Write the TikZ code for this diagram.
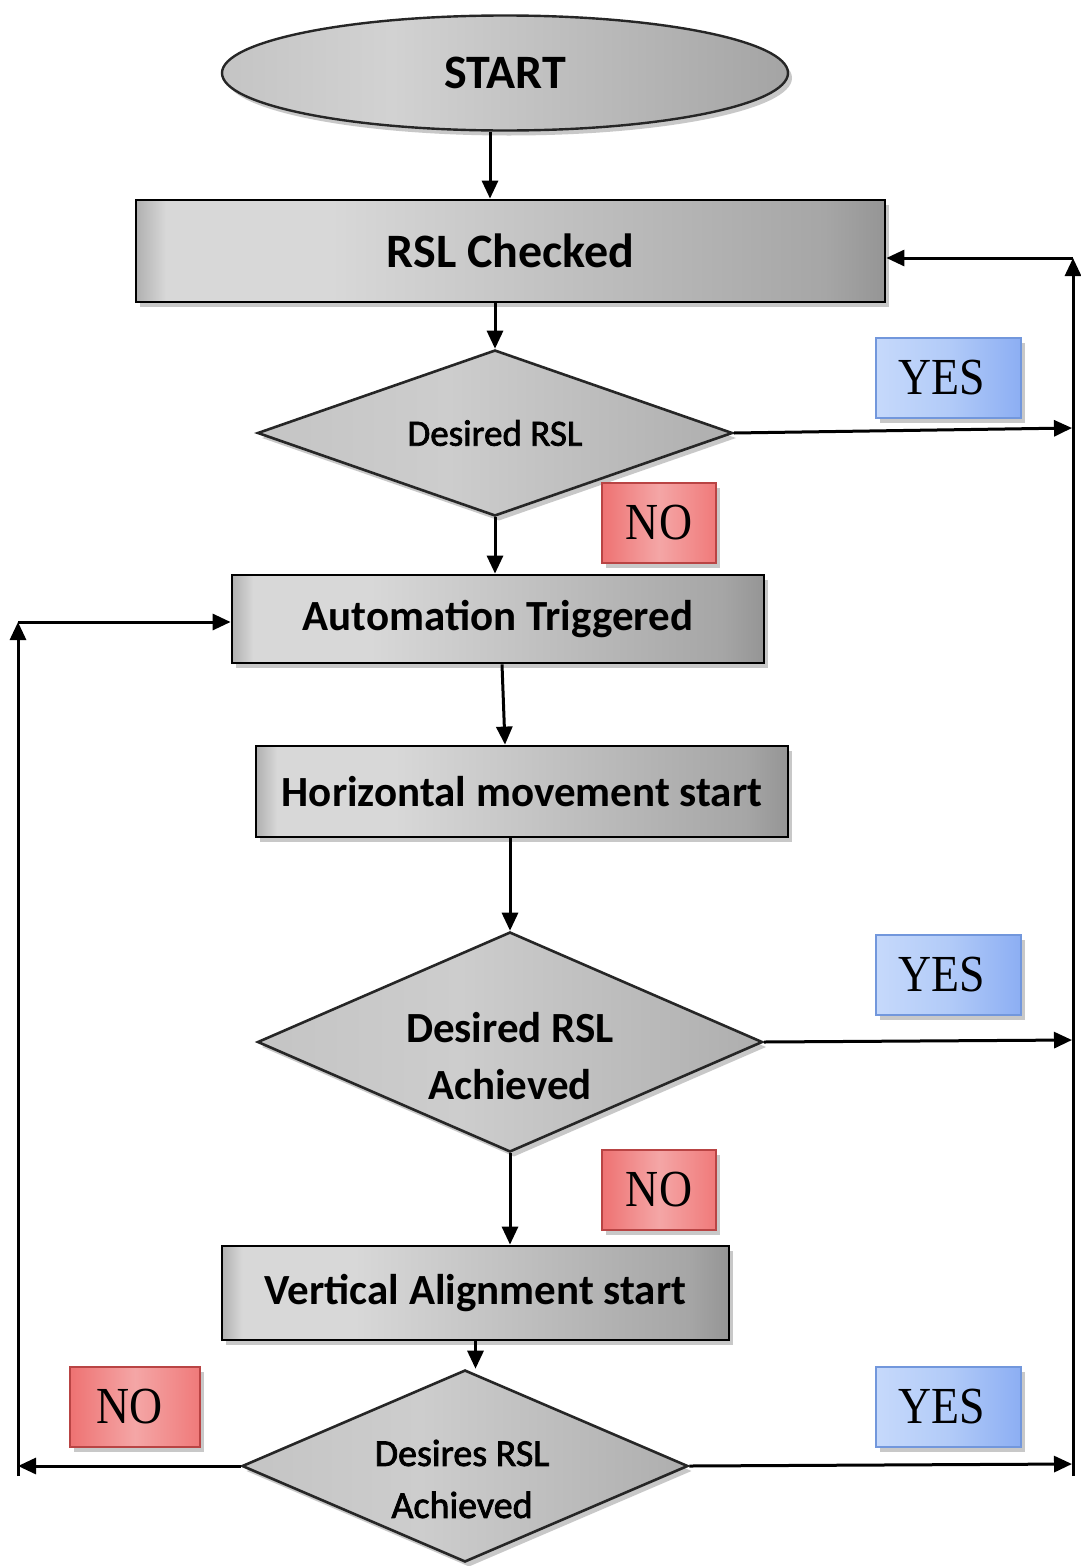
\documentclass[tikz,border=0pt]{standalone}
\usepackage{fontspec}
\usepackage{graphicx}
\setmainfont{Carlito}
\newfontfamily\midface[FakeBold=2]{Carlito}
\newfontfamily\serifface{Liberation Serif}
\usetikzlibrary{shapes.geometric,arrows.meta,shadows}

% grey process boxes
\definecolor{pgA}{HTML}{B0B0B0}
\definecolor{pgB}{HTML}{D8D8D8}
\definecolor{pgC}{HTML}{A6A6A6}
\definecolor{pgD}{HTML}{959595}
% terminal and decisions
\definecolor{tmA}{HTML}{C4C4C4}
\definecolor{tmB}{HTML}{D2D2D2}
\definecolor{tmC}{HTML}{A4A4A4}
\definecolor{dcA}{HTML}{C4C4C4}
\definecolor{dcB}{HTML}{CDCDCD}
\definecolor{dcC}{HTML}{AEAEAE}
% answer tags
\definecolor{ysA}{HTML}{C6D9FB}
\definecolor{ysB}{HTML}{B2CBF8}
\definecolor{ysC}{HTML}{8CAEF3}
\definecolor{ysLine}{HTML}{7297DC}
\definecolor{noA}{HTML}{EE7272}
\definecolor{noB}{HTML}{F4A6A6}
\definecolor{noC}{HTML}{F07A7A}
\definecolor{noLine}{HTML}{B94444}

\pgfdeclarehorizontalshading{procshade}{100bp}{color(0bp)=(pgA); color(25bp)=(pgA); color(27bp)=(pgB); color(38bp)=(pgB); color(71bp)=(pgC); color(75bp)=(pgD); color(100bp)=(pgD)}
\pgfdeclarehorizontalshading{termshade}{100bp}{color(0bp)=(tmA); color(25bp)=(tmA); color(40bp)=(tmB); color(75bp)=(tmC); color(100bp)=(tmC)}
\pgfdeclarehorizontalshading{decshade}{100bp}{color(0bp)=(dcA); color(25bp)=(dcA); color(45bp)=(dcB); color(75bp)=(dcC); color(100bp)=(dcC)}
\pgfdeclarehorizontalshading{yesshade}{100bp}{color(0bp)=(ysA); color(25bp)=(ysA); color(50bp)=(ysB); color(75bp)=(ysC); color(100bp)=(ysC)}
\pgfdeclarehorizontalshading{noshade}{100bp}{color(0bp)=(noA); color(25bp)=(noA); color(50bp)=(noB); color(75bp)=(noC); color(100bp)=(noC)}

\begin{document}
\begin{tikzpicture}[x=1pt,y=-1pt,
  arr/.style={line width=3pt,-{Triangle[length=18pt,width=16pt]}},
  shad/.style={drop shadow={shadow xshift=4pt,shadow yshift=-5pt,opacity=0.3,fill=black!70}},
  procbox/.style={rectangle,draw=black,line width=2.8pt,shading=procshade,shad,inner sep=0pt,
    font=\fontsize{43}{50}\selectfont\bfseries},
  term/.style={ellipse,draw=black!85,line width=2.4pt,shading=termshade,shad,inner sep=0pt,
    font=\fontsize{48}{56}\selectfont\bfseries},
  decis/.style={diamond,draw=black!85,line width=2.6pt,shading=decshade,shad,inner sep=0pt,aspect=2.8},
  dtext/.style={align=center,inner sep=0pt},
  tagbox/.style={rectangle,line width=2pt,shad,inner sep=0pt,
    font=\serifface\fontsize{52}{60}\selectfont},
  yesbox/.style={tagbox,draw=ysLine,shading=yesshade,minimum width=145pt,minimum height=80pt},
  nobox/.style={tagbox,draw=noLine,shading=noshade,minimum height=80pt}
]
\fill[white] (0,0) rectangle (1080,1566);
\useasboundingbox (0,0) rectangle (1080,1566);

% main column
\node[term,minimum width=566pt,minimum height=115pt] (start) at (505,73) {START};
\node[procbox,minimum width=749pt,minimum height=102pt,font=\fontsize{48}{56}\selectfont\bfseries] (rsl) at (510.5,251) {RSL Checked};
\node[decis,minimum width=475pt,minimum height=166pt,font=\midface\fontsize{37}{44}\selectfont] (d1) at (495,433) {Desired RSL};
\node[procbox,minimum width=532pt,minimum height=88pt] (auto) at (498,619) {Automation Triggered};
\node[procbox,minimum width=532pt,minimum height=91pt] (horiz) at (522,791.5) {Horizontal movement start};
\node[decis,minimum width=505pt,minimum height=220pt] (d2) at (510,1042) {};
\node[dtext,font=\fontsize{43}{57}\selectfont\bfseries] (d2t) at (510,1056) {Desired RSL\\Achieved};
\node[procbox,minimum width=507pt,minimum height=94pt] (vert) at (475.5,1293) {Vertical Alignment start};
\node[decis,minimum width=446pt,minimum height=192pt] (d3) at (465,1466) {};
\node[dtext,font=\midface\fontsize{38}{52}\selectfont] (d3t) at (462,1479) {Desires RSL\\Achieved};

% answer tags
\node[yesbox] (yes1) at (948.5,378) {\scalebox{0.88}[1]{YES}\hspace*{14pt}};
\node[yesbox] (yes2) at (948.5,974.5) {\scalebox{0.88}[1]{YES}\hspace*{14pt}};
\node[yesbox] (yes3) at (948.5,1406.5) {\scalebox{0.88}[1]{YES}\hspace*{14pt}};
\node[nobox,minimum width=114pt] (no1) at (659,523) {\scalebox{0.88}[1]{NO}};
\node[nobox,minimum width=114pt] (no2) at (659,1190) {\scalebox{0.88}[1]{NO}};
\node[nobox,minimum width=130pt] (no3) at (135,1406.5) {\scalebox{0.88}[1]{NO}\hspace*{10pt}};

% return rails
\coordinate (rtop) at (1073,258);
\coordinate (rbot) at (1073,1476);
\coordinate (ltop) at (18,622);
\coordinate (lbot) at (18,1476);
\coordinate (r1) at (1072,428);
\coordinate (r2) at (1072,1040);
\coordinate (r3) at (1072,1464);
\coordinate (l3) at (18,1466);

% downward flow
\draw[arr] ([xshift=-15pt]start.south) -- ([xshift=-15pt]start.south |- rsl.north);
\draw[arr] (rsl.south -| d1.north) -- (d1.north);
\draw[arr] (d1.south) -- (d1.south |- auto.north);
\draw[arr] ([xshift=4pt]auto.south) -- ([xshift=-17pt]horiz.north);
\draw[arr] (horiz.south -| d2.north) -- (d2.north);
\draw[arr] (d2.south) -- (d2.south |- vert.north);
\draw[arr] (vert.south) -- (vert.south |- d3.north);

% YES branches to the right rail
\draw[arr] (d1.east) -- (r1);
\draw[arr] (d2.east) -- (r2);
\draw[arr] (d3.east) -- (r3);
\draw[arr] (rbot) -- (rtop);
\draw[arr] (rtop) -- (rtop -| rsl.east);

% NO branch back to automation
\draw[arr] (d3.west) -- (l3);
\draw[arr] (lbot) -- (ltop);
\draw[arr] (ltop) -- (ltop -| auto.west);
\end{tikzpicture}
\end{document}
